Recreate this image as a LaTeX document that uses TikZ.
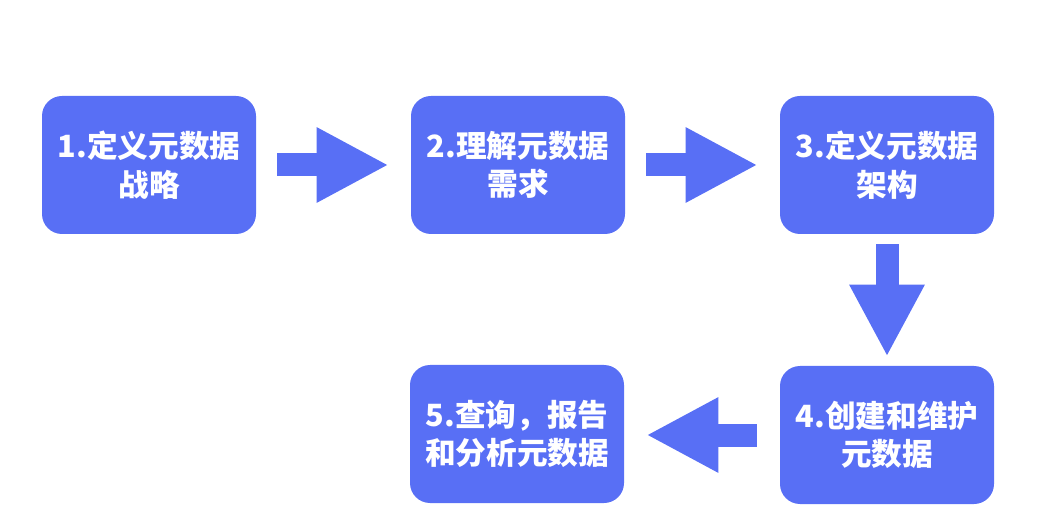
\documentclass[tikz,border=0pt]{standalone}
\usepackage{fontspec}
\newfontfamily\cjk{Noto Sans CJK SC}
\usetikzlibrary{arrows.meta}
\definecolor{stepblue}{RGB}{88,111,245}
\tikzset{
	stepbox/.style={fill=stepblue, rounded corners=0.5cm, minimum width=5.35cm, minimum height=3.45cm,
		text=white, align=center, font=\cjk\bfseries\fontsize{21.8}{27.5}\selectfont},
	flow/.style={draw=stepblue, line width=0.575cm, -{Triangle[length=1.8cm, width=1.75cm, fill=stepblue]}}
}
\begin{document}
\begin{tikzpicture}
	\useasboundingbox (0,0) rectangle (26.5,12.9);

	\node[stepbox] (s1) at (3.725,8.775) {1.定义元数据\\战略};
	\node[stepbox] (s2) at (12.95,8.775) {2.理解元数据\\需求};
	\node[stepbox] (s3) at (22.175,8.775) {3.定义元数据\\架构};
	\node[stepbox] (s4) at (22.175,2.025) {4.创建和维护\\元数据};
	\node[stepbox] (s5) at (12.925,2.05) {5.查询，报告\\和分析元数据};

	% block arrows between the steps
	\draw[flow, shorten <=0.525cm, shorten >=0.55cm] (s1) -- (s2);
	\draw[flow, shorten <=0.525cm, shorten >=0.55cm] (s2) -- (s3);
	\draw[flow, shorten <=0.25cm, shorten >=0.225cm] (s3) -- (s4);
	\draw[flow, shorten <=0.575cm, shorten >=0.55cm] (s4.west) -- (s5.east |- s4.west);
\end{tikzpicture}
\end{document}
